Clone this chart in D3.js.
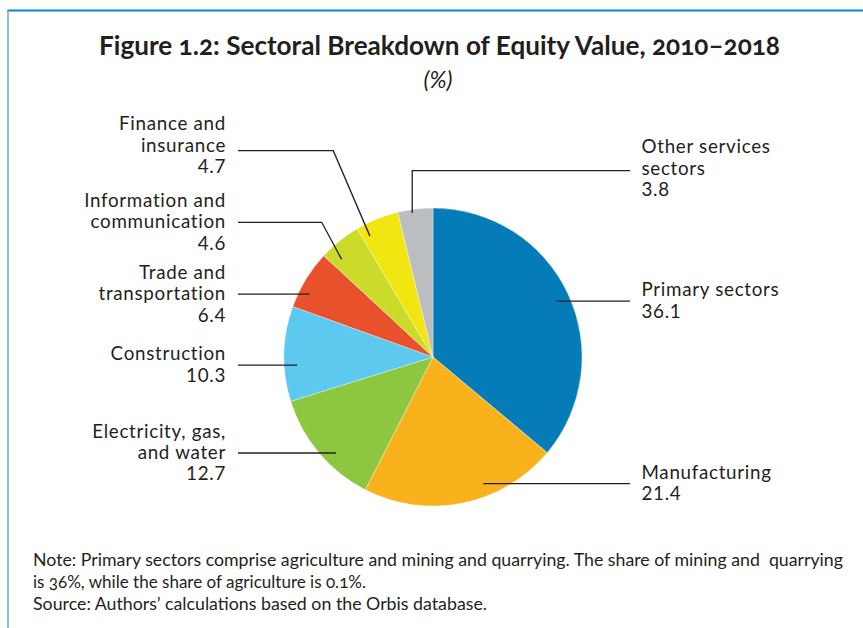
<!DOCTYPE html>
<html>
<head>
<meta charset="utf-8">
<script src="https://cdn.jsdelivr.net/npm/d3@7"></script>
<style>
  html, body { margin: 0; padding: 0; background: #fff; }
  svg { display: block; }
  .onum { font-feature-settings: "onum" 1; font-variant-numeric: oldstyle-nums; }
</style>
</head>
<body>
<svg id="chart" width="863" height="628"></svg>
<script>
// Sector shares of equity value (%), listed clockwise from 12 o'clock
const sectors = [
  "Primary sectors", "Manufacturing", "Electricity, gas, and water", "Construction",
  "Trade and transportation", "Information and communication", "Finance and insurance",
  "Other services sectors"
];
const shares = [36.1, 21.4, 12.7, 10.3, 6.4, 4.6, 4.7, 3.8];
// Category names broken into label lines (the value line is appended from shares)
const labelLines = [
  ["Primary sectors"], ["Manufacturing"], ["Electricity, gas,", "and water"], ["Construction"],
  ["Trade and", "transportation"], ["Information and", "communication"], ["Finance and", "insurance"],
  ["Other services", "sectors"]
];
const sliceColors = ["#057cb7", "#f9b21b", "#8dc63f", "#5dc9ee", "#e9512c", "#cbdb2a", "#f2e610", "#bcbdc0"];

const titleText = "Figure 1.2: Sectoral Breakdown of Equity Value, 2010–2018";
const unitText = "(%)";
const noteLines = [
  "Note: Primary sectors comprise agriculture and mining and quarrying. The share of mining and  quarrying",
  "is 36%, while the share of agriculture is 0.1%.",
  "Source: Authors’ calculations based on the Orbis database."
];

// ---- layout ----
const W = 863, H = 628;
const cx = 433, cy = 357, R = 149;
const ink = "#231f20";
const labelFont = "Lato, 'Open Sans', sans-serif";
const lineHeight = 21.3;
const leftTextX = 226, rightTextX = 641.5;
const leftLineX = 238, rightLineX = 630;

// Where each leader line touches its slice: fraction across the slice's angle,
// fraction of the radius, optional elbow, and a small text nudge.
const leaderLayout = [
  { side: "right", at: 0.505, rf: 0.910 },
  { side: "right", at: 0.368, rf: 0.915 },
  { side: "left",  at: 0.400, rf: 0.916 },
  { side: "left",  at: 0.374, rf: 0.913 },
  { side: "left",  at: 0.310, rf: 0.930 },
  { side: "left",  at: 0.245, rf: 0.897, elbow: [321.7, 222.3] },
  { side: "left",  at: 0.180, rf: 0.915, elbow: [333.3, 150.7], textShift: -5 },
  { side: "right", at: 0.400, rf: 0.977, elbowY: 170.7, textShift: -2 }
];

const svg = d3.select("#chart");

// frame: heavy rule on top, thin rule down the left
svg.append("line").attr("x1", 7.5).attr("x2", W).attr("y1", 10.5).attr("y2", 10.5)
  .attr("stroke", "#0a85c8").attr("stroke-width", 2.2);
svg.append("line").attr("x1", 8).attr("x2", 8).attr("y1", 10).attr("y2", H)
  .attr("stroke", "#3f97d0").attr("stroke-width", 1.2);

// title and unit
svg.append("text").attr("class", "onum")
  .attr("x", 99).attr("y", 54.5)
  .attr("textLength", 681).attr("lengthAdjust", "spacingAndGlyphs")
  .attr("font-family", labelFont).attr("font-weight", 700).attr("font-size", 26)
  .attr("fill", ink).text(titleText);
svg.append("text")
  .attr("x", 438).attr("y", 88).attr("text-anchor", "middle")
  .attr("font-family", labelFont).attr("font-style", "italic").attr("font-weight", 400)
  .attr("font-size", 23).attr("fill", ink).text(unitText);

// pie
const pie = d3.pie().sort(null).value(d => d).startAngle(0).endAngle(2 * Math.PI);
const arcs = pie(shares);
const arc = d3.arc().innerRadius(0).outerRadius(R);

const g = svg.append("g").attr("transform", `translate(${cx},${cy})`);
g.selectAll("path.slice").data(arcs).join("path")
  .attr("class", "slice")
  .attr("d", arc)
  .attr("fill", (d, i) => sliceColors[i])
  .attr("stroke", "#ffffff").attr("stroke-width", 0.5).attr("stroke-opacity", 0.7);

// leader lines and labels
const fmt = d3.format(".1f");
const labels = svg.append("g");

arcs.forEach((a, i) => {
  const L = leaderLayout[i];
  const ang = a.startAngle + L.at * (a.endAngle - a.startAngle);
  const r = R * L.rf;
  const p = [cx + r * Math.sin(ang), cy - r * Math.cos(ang)];
  const pts = [p];
  let lineY = p[1];
  if (L.elbow) { pts.push(L.elbow); lineY = L.elbow[1]; }
  else if (L.elbowY !== undefined) { pts.push([p[0], L.elbowY]); lineY = L.elbowY; }
  pts.push([L.side === "left" ? leftLineX : rightLineX, lineY]);

  labels.append("path")
    .attr("d", d3.line()(pts))
    .attr("fill", "none").attr("stroke", ink).attr("stroke-width", 1.3);

  const lines = labelLines[i].concat([fmt(shares[i])]);
  const firstBase = lineY - (lines.length - 1) * lineHeight / 2 + 6 + (L.textShift || 0);
  const t = labels.append("text")
    .attr("font-family", labelFont).attr("font-size", 18.8).attr("letter-spacing", 0.7)
    .attr("fill", ink)
    .attr("text-anchor", L.side === "left" ? "end" : "start");
  lines.forEach((s, k) => {
    t.append("tspan")
      .attr("x", L.side === "left" ? leftTextX : rightTextX)
      .attr("y", firstBase + k * lineHeight)
      .text(s);
  });
});

// note and source
const noteWidths = [810, 333, 454];
svg.append("g").selectAll("text").data(noteLines).join("text")
  .attr("class", "onum")
  .attr("x", 33).attr("y", (d, i) => 566 + i * 22)
  .attr("textLength", (d, i) => noteWidths[i]).attr("lengthAdjust", "spacingAndGlyphs")
  .attr("font-family", labelFont).attr("font-size", 16.5).attr("fill", ink)
  .attr("xml:space", "preserve")
  .text(d => d);
</script>
</body>
</html>
